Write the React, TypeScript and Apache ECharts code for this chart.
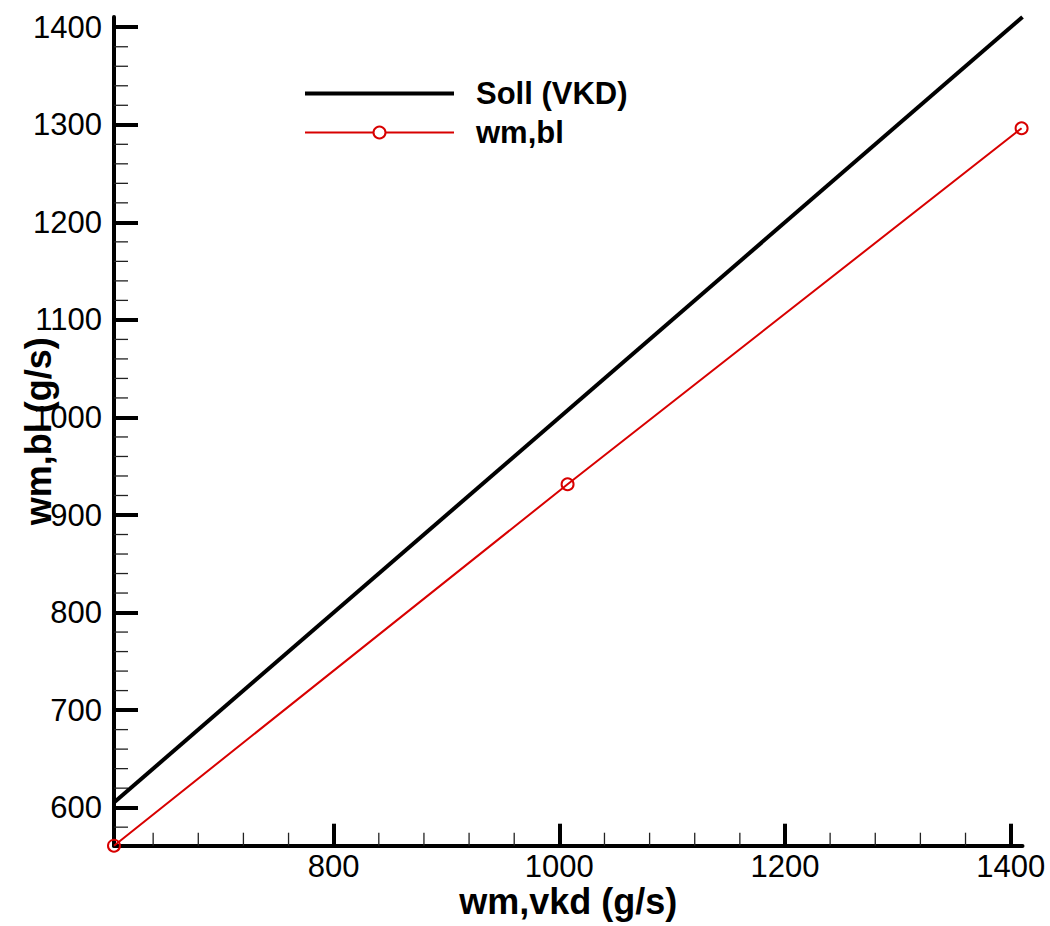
import React, { useEffect, useRef } from "react";
import * as echarts from "echarts";

// wm,vkd (x) and wm,bl (y) measurements
const vkd = [605.3, 1007.3, 1409.7];
const bl = [561, 931.5, 1296.5];
// Soll (VKD): y = x reference line endpoints
const sollX = [605.3, 1410.5];
const sollY = [605.3, 1410.5];

const X_MIN = 605.3;
const X_MAX = 1410.5;
const Y_MIN = 561;
const Y_MAX = 1410.5;

const xMajor = [800, 1000, 1200, 1400];
const xMinor = [640, 680, 720, 760, 840, 880, 920, 960, 1040, 1080, 1120, 1160, 1240, 1280, 1320, 1360];
const yMajor = [600, 700, 800, 900, 1000, 1100, 1200, 1300, 1400];
const yMinor = [
  580, 620, 640, 660, 680, 720, 740, 760, 780, 820, 840, 860, 880, 920, 940, 960, 980,
  1020, 1040, 1060, 1080, 1120, 1140, 1160, 1180, 1220, 1240, 1260, 1280, 1320, 1340, 1360, 1380,
];

const RED = "#d80000";
const FONT = "'Liberation Sans', Arial, Helvetica, sans-serif";

export default function App() {
  const ref = useRef<HTMLDivElement>(null);

  useEffect(() => {
    document.body.style.margin = "0";
    if (!ref.current) return;
    const chart = echarts.init(ref.current, undefined, { renderer: "svg" });

    const option: any = {
      animation: false,
      backgroundColor: "#fff",
      grid: {
        left: 114,
        right: 27.5,
        top: 17,
        bottom: 80.3,
        containLabel: false,
        outerBoundsMode: "none",
      },
      xAxis: {
        type: "value",
        min: X_MIN,
        max: X_MAX,
        name: "wm,vkd (g/s)",
        nameLocation: "middle",
        nameGap: 38,
        nameMoveOverlap: false,
        nameTextStyle: {
          fontFamily: FONT,
          fontSize: 36,
          lineHeight: 36,
          fontWeight: "bold",
          color: "#000",
        },
        axisLine: { show: true, onZero: false, lineStyle: { color: "#000", width: 4 } },
        axisTick: {
          show: true,
          inside: true,
          length: 22,
          customValues: xMajor,
          lineStyle: { color: "#000", width: 4 },
        },
        axisLabel: {
          customValues: xMajor,
          formatter: (v: number) => String(v),
          margin: 6,
          fontFamily: FONT,
          fontSize: 31,
          lineHeight: 29,
          color: "#000",
        },
        splitLine: { show: false },
      },
      yAxis: {
        type: "value",
        min: Y_MIN,
        max: Y_MAX,
        name: "wm,bl (g/s)",
        nameLocation: "middle",
        nameGap: 58,
        nameMoveOverlap: false,
        nameTextStyle: { fontFamily: FONT, fontSize: 36, fontWeight: "bold", color: "#000" },
        axisLine: { show: true, onZero: false, lineStyle: { color: "#000", width: 4 } },
        axisTick: {
          show: true,
          inside: true,
          length: 24,
          customValues: yMajor,
          lineStyle: { color: "#000", width: 4 },
        },
        axisLabel: {
          customValues: yMajor,
          formatter: (v: number) => String(v),
          margin: 12,
          fontFamily: FONT,
          fontSize: 31,
          color: "#000",
        },
        splitLine: { show: false },
      },
      legend: {
        orient: "vertical",
        left: 303,
        top: 78,
        padding: 0,
        itemWidth: 149,
        itemHeight: 15,
        itemGap: 8,
        selectedMode: false,
        textStyle: {
          fontFamily: FONT,
          fontSize: 31,
          fontWeight: "bold",
          color: "#000",
          padding: [0, 0, 0, 17],
        },
        data: [
          { name: "Soll (VKD)", itemStyle: { opacity: 0 }, lineStyle: { color: "#000", width: 4 } },
          {
            name: "wm,bl",
            itemStyle: { color: "#fff", borderColor: RED, borderWidth: 2 },
            lineStyle: { color: RED, width: 2 },
          },
        ],
      },
      series: [
        {
          name: "Soll (VKD)",
          type: "line",
          data: sollX.map((x, i) => [x, sollY[i]]),
          symbol: "none",
          lineStyle: { color: "#000", width: 4 },
          itemStyle: { color: "#000" },
          z: 3,
        },
        {
          name: "wm,bl",
          type: "line",
          data: vkd.map((x, i) => [x, bl[i]]),
          symbol: "circle",
          symbolSize: 12,
          showSymbol: true,
          clip: false,
          lineStyle: { color: RED, width: 2 },
          itemStyle: { color: "transparent", borderColor: RED, borderWidth: 2 },
          z: 4,
        },
        {
          name: "xMinorTicks",
          type: "custom",
          silent: true,
          data: xMinor.map((v) => [v, Y_MIN]),
          renderItem: (params: any, api: any) => {
            const p = api.coord([api.value(0), api.value(1)]);
            return {
              type: "line",
              shape: { x1: p[0], y1: p[1], x2: p[0], y2: p[1] - 13 },
              style: { stroke: "#222", lineWidth: 1.3 },
            };
          },
          z: 2,
        },
        {
          name: "yMinorTicks",
          type: "custom",
          silent: true,
          data: yMinor.map((v) => [X_MIN, v]),
          renderItem: (params: any, api: any) => {
            const p = api.coord([api.value(0), api.value(1)]);
            return {
              type: "line",
              shape: { x1: p[0], y1: p[1], x2: p[0] + 14, y2: p[1] },
              style: { stroke: "#222", lineWidth: 1.3 },
            };
          },
          z: 2,
        },
      ],
    };

    chart.setOption(option);
    return () => {
      chart.dispose();
    };
  }, []);

  return <div ref={ref} style={{ width: 1050, height: 926 }} />;
}
